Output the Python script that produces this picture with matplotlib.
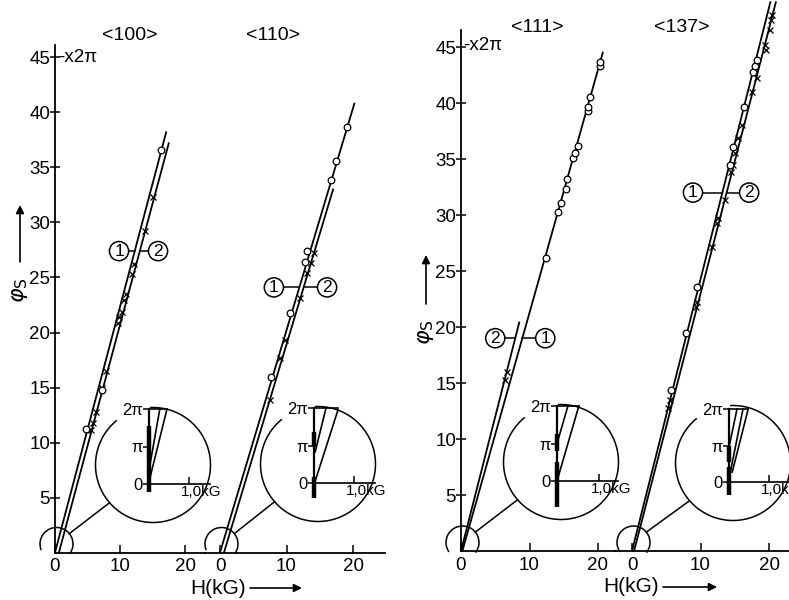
#!/usr/bin/env python3
"""Phase phi_s (x 2pi) against field H for four orientations, with zoomed insets."""

import matplotlib
matplotlib.use("Agg")
import matplotlib.pyplot as plt
import numpy as np
from matplotlib.patches import Arc
from matplotlib.lines import Line2D
from matplotlib.transforms import IdentityTransform

plt.rcParams["font.family"] = ["Liberation Sans", "DejaVu Sans"]
plt.rcParams["mathtext.fontset"] = "dejavusans"

W, H = 789, 600

# ---------------------------------------------------------------------------
# data: H in kG, phi_s in units of 2 pi
# ---------------------------------------------------------------------------
# <100>
h100_l1, p100_l1 = [0.0, 17.1], [0.0, 38.2]
h100_l2, p100_l2 = [0.6, 17.5], [0.0, 37.2]
h100_o = [4.8, 7.2, 16.3]
p100_o = [11.2, 14.8, 36.6]
h100_x = [5.5, 5.8, 6.3, 7.2, 7.8, 9.7, 9.8, 10.3, 10.6, 10.9, 11.8, 12.2, 13.8, 15.1]
p100_x = [11.1, 11.8, 12.8, 15.0, 16.5, 20.9, 21.4, 21.9, 23.0, 23.5, 25.3, 26.2, 29.2, 32.3]

# <110>
h110_l1, p110_l1 = [0.0, 20.2], [0.0, 40.8]
h110_l2, p110_l2 = [0.6, 17.0], [0.0, 33.0]
h110_o = [7.7, 10.5, 12.8, 13.1, 16.7, 17.4, 19.1]
p110_o = [16.0, 21.8, 26.4, 27.4, 33.9, 35.6, 38.7]
h110_x = [7.5, 9.0, 9.8, 12.0, 13.1, 13.7, 14.1]
p110_x = [13.9, 17.7, 19.3, 23.1, 25.4, 26.3, 27.2]

# <111>
h111_l1, p111_l1 = [0.2, 20.7], [0.0, 44.5]
h111_l2, p111_l2 = [0.0, 8.5], [0.0, 20.4]
h111_o = [12.4, 14.2, 14.6, 15.3, 15.5, 16.4, 16.6, 17.1, 18.5, 18.5, 18.8, 20.3, 20.3]
p111_o = [26.2, 30.3, 31.1, 32.3, 33.2, 35.1, 35.5, 36.2, 39.3, 39.6, 40.5, 43.3, 43.7]
h111_x = [6.4, 6.7]
p111_x = [15.3, 16.0]

# <137>
h137_l1, p137_l1 = [0.0, 20.2], [0.0, 49.0]
h137_l2, p137_l2 = [0.3, 21.0], [0.0, 49.0]
h137_o = [5.7, 7.9, 9.5, 14.3, 14.7, 16.4, 17.7, 18.0, 18.2]
p137_o = [14.4, 19.5, 23.6, 34.5, 36.1, 39.6, 42.8, 43.3, 43.8]
h137_x = [5.3, 5.5, 9.3, 9.5, 11.7, 12.4, 12.6, 13.6, 14.5, 14.7, 15.0, 15.5,
          16.1, 17.5, 18.2, 19.6, 19.4, 20.1, 20.3, 20.4]
p137_x = [12.8, 13.5, 21.8, 22.2, 27.1, 29.3, 29.7, 31.3, 33.8, 34.5, 35.5, 36.9,
          38.0, 41.0, 42.2, 44.7, 45.2, 46.5, 47.4, 47.9]

X_TICKS = [0, 10, 20]
Y_TICKS = [5, 10, 15, 20, 25, 30, 35, 40, 45]

# insets: ((H start, H end), (phase start, phase end)), H in kG, phase in units of pi
ins100_lines = [((0.0, 0.27), (0.37, 2.0)), ((0.03, 0.45), (0.19, 2.0))]
ins100_bars = [(-0.22, 1.55)]
ins110_lines = [((0.03, 0.30), (0.83, 2.0)), ((0.02, 0.60), (0.02, 1.95))]
ins110_bars = [(-0.40, 0.15), (0.95, 1.35)]
ins111_lines = [((0.0, 0.26), (1.0, 2.0)), ((0.0, 0.52), (0.0, 2.0))]
ins111_bars = [(-0.70, 0.50), (0.80, 1.25)]
ins137_lines = [((0.0, 0.20), (0.95, 2.0)), ((0.03, 0.35), (0.25, 2.0)),
                ((0.08, 0.48), (0.27, 2.0))]
ins137_bars = [(-0.35, 0.40), (0.55, 1.00)]

# ---------------------------------------------------------------------------
fig = plt.figure(figsize=(W / 100, H / 100), dpi=100)
LW = 1.3


def px_axes(x0, x1, ytop, ybot):
    return fig.add_axes([x0 / W, 1 - ybot / H, (x1 - x0) / W, (ybot - ytop) / H])


def px_text(x, y, s, **kw):
    fig.text(x / W, 1 - y / H, s, **kw)


def px_arc(cx, cy, r, t1, t2, lw=1.1):
    fig.add_artist(Arc((cx, cy), 2 * r, 2 * r, theta1=t1, theta2=t2,
                       transform=IdentityTransform(), lw=lw, color="k"))


def px_line(p, q, lw=1.1):
    fig.add_artist(Line2D([p[0], q[0]], [p[1], q[1]], transform=IdentityTransform(),
                          lw=lw, color="k"))


def main_axes(x0, x1, ox, oy, sx, sy, ytop, with_y):
    ax = px_axes(x0, x1, ytop, oy)
    ax.set_xlim((x0 - ox) / sx, (x1 - ox) / sx)
    ax.set_ylim(0, (oy - ytop) / sy)
    ax.patch.set_visible(False)
    for s in ("top", "right"):
        ax.spines[s].set_visible(False)
    ax.spines["bottom"].set_linewidth(LW)
    ax.spines["left"].set_linewidth(LW)
    ax.spines["left"].set_visible(with_y)
    ax.set_xticks(X_TICKS)
    ax.set_xticklabels([str(t) for t in X_TICKS], fontsize=13.5)
    ax.tick_params(axis="x", direction="in", length=6, width=1.1, pad=4)
    if with_y:
        ax.set_yticks(Y_TICKS)
        ax.set_yticklabels([str(t) for t in Y_TICKS], fontsize=13.5)
        ax.tick_params(axis="y", direction="inout", length=7, width=1.1, pad=0)
    else:
        ax.set_yticks([])
    return ax


def draw_series(ax, hl1, pl1, hl2, pl2, ho, po, hx, px, clip=True):
    ax.plot(hl1, pl1, color="k", lw=LW, clip_on=clip, zorder=2)
    ax.plot(hl2, pl2, color="k", lw=LW, clip_on=clip, zorder=2)
    ax.plot(hx, px, ls="none", marker="x", ms=5, mew=0.9, color="k", zorder=3,
            clip_on=False)
    ax.plot(ho, po, ls="none", marker="o", ms=4.8, mew=0.9, mfc="white", mec="k",
            zorder=4, clip_on=False)


def line_tags(ax, sx, phi, h_left, h_right, t_left, t_right, lines):
    # short leader lines from the circled numbers to the two lines
    xs = sorted(float(np.interp(phi, p, h)) for h, p in lines)
    r = 10 / sx
    ax.plot([h_left + r, xs[0]], [phi, phi], color="k", lw=1.1)
    ax.plot([xs[1], h_right - r], [phi, phi], color="k", lw=1.1)
    for h, t in ((h_left, t_left), (h_right, t_right)):
        ax.text(h, phi, t, ha="center", va="center", fontsize=12.5, zorder=5,
                bbox=dict(boxstyle="circle,pad=0.12", fc="white", ec="k", lw=1.1))


def inset(ox, oy, sx, sy, xmax, lines, bars):
    ax = px_axes(ox, ox + xmax * sx, oy - 2 * sy, oy)
    ax.set_xlim(0, xmax)
    ax.set_ylim(0, 2)
    ax.patch.set_visible(False)
    for s in ("top", "right"):
        ax.spines[s].set_visible(False)
    ax.spines["left"].set_linewidth(1.6)
    ax.spines["bottom"].set_linewidth(1.2)
    ax.set_yticks([0, 1, 2])
    ax.set_yticklabels(["0", "π", "2π"], fontsize=12)
    ax.tick_params(axis="y", direction="out", length=4, width=1.1, pad=0.5)
    ax.set_xticks([1.0])
    ax.set_xticklabels([])
    ax.tick_params(axis="x", direction="in", length=5, width=1.1)
    ax.text(0.8, -0.22, "1,0kG", ha="left", va="center", fontsize=11)
    top = 0.0
    for (h0, h1), (p0, p1) in lines:
        ax.plot([h0, h1], [p0, p1], color="k", lw=1.2, clip_on=False)
        top = max(top, h1)
    ax.plot([0, top], [2, 2], color="k", lw=1.2, clip_on=False)
    for lo, hi in bars:
        ax.plot([0, 0], [lo, hi], color="k", lw=3.2, solid_capstyle="butt",
                clip_on=False)
    return ax


def magnifier(main_ax, ins_ax, gap_big=(93, 129), gap_small=(202, 324)):
    # small circle round the origin, big circle round the inset, joining line
    sx0, sy0 = main_ax.transData.transform((0, 0))
    scx, scy, sr = sx0 + 1.5, sy0 + 8.5, 16.5
    bx0, by0 = ins_ax.transData.transform((0, 0))
    bcx, bcy, br = bx0 + 4, by0 + 19, 57.5
    px_arc(scx, scy, sr, gap_small[1], gap_small[0] + 360)
    px_arc(bcx, bcy, br, gap_big[1], gap_big[0] + 360)
    a, b = np.deg2rad(39), np.deg2rad(221)
    px_line((scx + sr * np.cos(a), scy + sr * np.sin(a)),
            (bcx + br * np.cos(b), bcy + br * np.sin(b)))


# ---- left panel -----------------------------------------------------------
ax100 = main_axes(55, 205, 55, 552.5, 6.5, 11.0, 45, True)
ax110 = main_axes(205, 385, 220, 552.5, 6.65, 11.0, 45, False)
draw_series(ax100, h100_l1, p100_l1, h100_l2, p100_l2, h100_o, p100_o, h100_x, p100_x)
draw_series(ax110, h110_l1, p110_l1, h110_l2, p110_l2, h110_o, p110_o, h110_x, p110_x)
line_tags(ax100, 6.5, 27.4, 9.85, 15.85, "1", "2",
          [(h100_l1, p100_l1), (h100_l2, p100_l2)])
line_tags(ax110, 6.65, 24.1, 8.1, 16.1, "1", "2",
          [(h110_l1, p110_l1), (h110_l2, p110_l2)])

# ---- right panel ----------------------------------------------------------
ax111 = main_axes(461, 615, 461, 551, 6.85, 11.2, 30, True)
ax137 = main_axes(615, 789, 632, 551, 6.85, 11.2, 30, False)
draw_series(ax111, h111_l1, p111_l1, h111_l2, p111_l2, h111_o, p111_o, h111_x, p111_x)
draw_series(ax137, h137_l1, p137_l1, h137_l2, p137_l2, h137_o, p137_o, h137_x, p137_x,
            clip=False)
line_tags(ax111, 6.85, 19.0, 5.0, 12.3, "2", "1",
          [(h111_l1, p111_l1), (h111_l2, p111_l2)])
line_tags(ax137, 6.85, 32.0, 8.9, 17.1, "1", "2",
          [(h137_l1, p137_l1), (h137_l2, p137_l2)])

# ---- insets ---------------------------------------------------------------
in100 = inset(149, 484, 40, 37.5, 1.52, ins100_lines, ins100_bars)
in110 = inset(314, 483, 40, 37.5, 1.52, ins110_lines, ins110_bars)
in111 = inset(557, 481, 42, 37.5, 1.45, ins111_lines, ins111_bars)
in137 = inset(729, 482, 40, 36.5, 1.52, ins137_lines, ins137_bars)
magnifier(ax100, in100)
magnifier(ax110, in110)
magnifier(ax111, in111, gap_small=(215, 322))
magnifier(ax137, in137, gap_small=(215, 322))

# ---- annotations ----------------------------------------------------------
for x, y, s in ((130, 35, "<100>"), (273, 35, "<110>"), (537, 28, "<111>"),
                (682, 28, "<137>")):
    px_text(x, y, s, ha="center", va="center", fontsize=14)
px_text(58, 57, "-x2π", ha="left", va="center", fontsize=13.5)
px_text(463, 45, "-x2π", ha="left", va="center", fontsize=13.5)

for x, y, ytip in ((20, 290, 205), (426, 332, 255)):
    px_text(x, y, r"$\varphi_{\mathrm{S}}$", ha="center", va="center",
            rotation=90, fontsize=16)
    ax100.annotate("", xy=(x, H - ytip), xytext=(x, H - (y - 28)),
                   xycoords="figure pixels", textcoords="figure pixels",
                   arrowprops=dict(arrowstyle="-|>", lw=1.2, color="k",
                                   mutation_scale=12, shrinkA=0, shrinkB=0))

for x0, x1, y in ((190, 302, 588), (603, 717, 587)):
    px_text(x0, y, "H(kG)", ha="left", va="center", fontsize=15)
    ax100.annotate("", xy=(x1, H - y), xytext=(x0 + 60, H - y),
                   xycoords="figure pixels", textcoords="figure pixels",
                   arrowprops=dict(arrowstyle="-|>", lw=1.2, color="k",
                                   mutation_scale=12, shrinkA=0, shrinkB=0))

fig.savefig("out.png", dpi=100)
